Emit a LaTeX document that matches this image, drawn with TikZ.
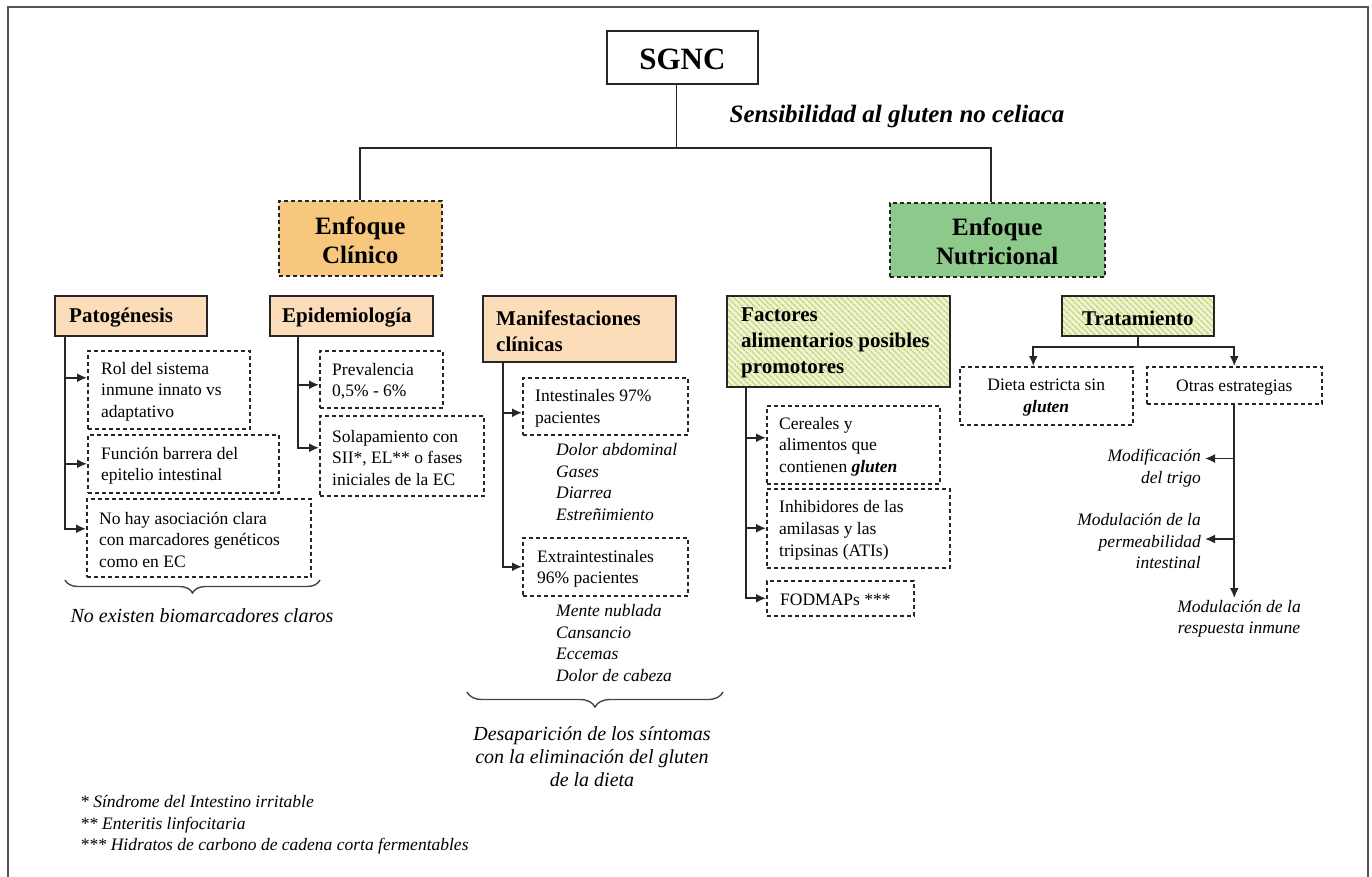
\documentclass[tikz,border=0pt]{standalone}
\usepackage{fontspec}
\setmainfont{Liberation Serif}
\usetikzlibrary{arrows.meta,decorations.pathreplacing,patterns.meta,calc}
\definecolor{linec}{HTML}{262626}
\definecolor{framec}{HTML}{555555}
\definecolor{peach}{HTML}{FCDDB9}
\definecolor{orE}{HTML}{F8C77E}
\definecolor{grE}{HTML}{8CC98A}
\definecolor{gbase}{HTML}{F1F5CF}
\definecolor{ghatch}{HTML}{C6D990}
\definecolor{bracec}{HTML}{3A4A55}
\newcommand\fsz[2]{\fontsize{#1}{#2}\selectfont}
% name, box style, text style, x1, y1, x2, y2, inset, text
\newcommand\bx[9]{%
  \pgfmathsetmacro\bxw{#6-#4}\pgfmathsetmacro\bxh{#7-#5}%
  \node[#2, anchor=north west, minimum width=\bxw pt, minimum height=\bxh pt, inner sep=0pt] (#1) at (#4,#5) {};%
  \node[#3, anchor=west] (#1t) at ([xshift=#8pt,yshift=-2pt]#1.west) {#9};}
% name, box style, text style, x1, y1, x2, y2, text (centred)
\newcommand\cbx[8]{%
  \pgfmathsetmacro\bxw{#6-#4}\pgfmathsetmacro\bxh{#7-#5}%
  \node[#2, anchor=north west, minimum width=\bxw pt, minimum height=\bxh pt, inner sep=0pt] (#1) at (#4,#5) {};%
  \node[#3, anchor=center] (#1t) at ([yshift=-2pt]#1.center) {#8};}
\tikzset{
  sbox/.style={draw=linec, line width=1.8pt, fill=white},
  hdr/.style={draw=linec, line width=1.8pt, fill=peach},
  hdrg/.style={draw=linec, line width=1.8pt, preaction={fill=gbase},
     pattern={Lines[angle=-45,distance=4pt,line width=1.7pt]}, pattern color=ghatch},
  dbox/.style={draw=linec, line width=1.5pt, dash pattern=on 4pt off 3pt, fill=white},
  etxt/.style={font=\fsz{25}{29}\bfseries, align=center, inner sep=0pt},
  htxt/.style={font=\fsz{21}{26}\bfseries, align=left, inner sep=0pt},
  btxt/.style={font=\fsz{17.5}{21.7}, align=left, inner sep=0pt},
  ctxt/.style={font=\fsz{17.5}{21.7}, align=center, inner sep=0pt},
  itxt/.style={font=\fsz{17.5}{21.5}\itshape, inner sep=0pt},
  conn/.style={draw=linec, line width=1.7pt},
  arr/.style={conn, -{Latex[length=10pt,width=9pt]}},
  brc/.style={draw=bracec, line width=1.4pt, decorate},
}
\begin{document}
\begin{tikzpicture}[x=1pt,y=-1pt]
\useasboundingbox (0,0) rectangle (1372,876);
\fill[white] (0,0) rectangle (1372,876);
\draw[framec, line width=2pt] (8,890) -- (8,7) -- (1368,7) -- (1368,890);

% top
\cbx{sgnc}{sbox}{font=\fsz{31}{36}\bfseries, inner sep=0pt}{606}{30}{757}{83}{SGNC}
\node[font=\fsz{25}{29}\bfseries\itshape, inner sep=0pt] (sens) at (897,116) {Sensibilidad al gluten no celiaca};
\cbx{clin}{dbox,fill=orE}{etxt}{278}{200}{441}{275}{Enfoque\\Clínico}
\cbx{nutr}{dbox,fill=grE}{etxt}{889}{202}{1104}{276}{Enfoque\\Nutricional}

\coordinate (hy) at (0,148);
\coordinate (sg) at ([xshift=-6pt]sgnc.south);
\draw[conn] (sg) -- (sg |- hy);
\coordinate (nt) at ([xshift=-6pt]nutr.north);
\draw[conn] (clin.north) |- (hy -| nt) -- (nt);

% row 2 headers
\bx{pato}{hdr}{htxt}{54}{295}{206}{335}{15}{Patogénesis}
\bx{epid}{hdr}{htxt}{269}{295}{432}{335}{13}{Epidemiología}
\bx{mani}{hdr}{htxt}{482}{295}{675}{361}{14}{Manifestaciones\\clínicas}
\bx{fact}{hdrg}{htxt}{726}{295}{949}{386}{15}{Factores\\alimentarios posibles\\promotores}
\cbx{trat}{hdrg}{htxt}{1061}{295}{1213}{335}{Tratamiento}

% Patogenesis
\bx{rol}{dbox}{btxt}{87}{350}{249}{428}{14}{Rol del sistema\\inmune innato vs\\adaptativo}
\bx{func}{dbox}{btxt}{87}{434}{278}{492}{14}{Función barrera del\\epitelio intestinal}
\bx{nohay}{dbox}{btxt}{86}{498}{310}{576}{13}{No hay asociación clara\\con marcadores genéticos\\como en EC}
\coordinate (pv) at ([xshift=11pt]pato.south west);
\coordinate (rola) at ([yshift=12pt]rol.west);
\coordinate (nohaya) at ([yshift=9pt]nohay.west);
\draw[arr] (pv) |- (nohaya);
\draw[arr] (pv |- rola) -- (rola);
\draw[arr] (pv |- func.west) -- (func.west);
\coordinate (b1a) at (65,580);
\coordinate (b1b) at (320,580);
\draw[brc, decoration={brace, mirror, amplitude=13pt}] (b1a) -- (b1b);
\node[font=\fsz{20}{23}\itshape, inner sep=0pt] (noex) at (202,616) {No existen biomarcadores claros};

% Epidemiologia
\bx{prev}{dbox}{btxt}{319}{350}{442}{407}{13}{Prevalencia\\0,5\% - 6\%}
\bx{sola}{dbox}{btxt}{319}{415}{483}{495}{13}{Solapamiento con\\SII*, EL** o fases\\iniciales de la EC}
\coordinate (ev) at ([xshift=29pt]epid.south west);
\coordinate (preva) at ([yshift=-5.5pt]prev.west);
\coordinate (solaa) at ([yshift=8pt]sola.west);
\draw[arr] (ev) |- (solaa);
\draw[arr] (ev |- preva) -- (preva);

% Manifestaciones
\bx{inte}{dbox}{btxt}{522}{377}{687}{434}{13}{Intestinales 97\%\\pacientes}
\bx{extra}{dbox}{btxt}{522}{537}{687}{595}{15}{Extraintestinales\\96\% pacientes}
\coordinate (mv) at ([xshift=21pt]mani.south west);
\coordinate (intea) at ([yshift=-6.5pt]inte.west);
\draw[arr] (mv) |- (extra.west);
\draw[arr] (mv |- intea) -- (intea);
\node[itxt, align=left, anchor=west] (sym1) at (556,482) {Dolor abdominal\\Gases\\Diarrea\\Estreñimiento};
\node[itxt, align=left, anchor=west] (sym2) at (556,643) {Mente nublada\\Cansancio\\Eccemas\\Dolor de cabeza};
\coordinate (b2a) at (467,692);
\coordinate (b2b) at (723,692);
\draw[brc, decoration={brace, mirror, amplitude=15pt}] (b2a) -- (b2b);
\node[font=\fsz{20}{23}\itshape, align=center, inner sep=0pt] (desap) at (592,757) {Desaparición de los síntomas\\con la eliminación del gluten\\de la dieta};

% Factores
\bx{cere}{dbox}{btxt}{766}{405}{939}{483}{13}{Cereales y\\alimentos que\\contienen \textbf{\textit{gluten}}}
\bx{inhi}{dbox}{btxt}{766}{488}{949}{567}{13}{Inhibidores de las\\amilasas y las\\tripsinas (ATIs)}
\bx{fodm}{dbox}{btxt}{766}{580}{913}{615}{14}{FODMAPs ***}
\coordinate (fv) at ([xshift=20pt]fact.south west);
\coordinate (cerea) at ([yshift=7pt]cere.west);
\draw[arr] (fv) |- (fodm.west);
\draw[arr] (fv |- cerea) -- (cerea);
\draw[arr] (fv |- inhi.west) -- (inhi.west);

% Tratamiento
\cbx{dieta}{dbox}{ctxt}{959}{366}{1132}{424}{Dieta estricta sin\\\textbf{\textit{gluten}}}
\cbx{otras}{dbox}{ctxt}{1146}{366}{1321}{403}{Otras estrategias}
\coordinate (tj) at ([yshift=-10pt]trat.south);
\coordinate (dtop) at ([xshift=-13pt]dieta.north);
\draw[conn] (trat.south) -- (tj);
\draw[arr] (tj) -| (dtop);
\draw[arr] (tj) -| (otras.north);
\node[itxt, align=right, anchor=east, inner xsep=4pt] (modif) at (1205,468) {Modificación\\del trigo};
\node[itxt, align=right, anchor=east, inner xsep=4pt] (perm) at (1205,541) {Modulación de la\\permeabilidad\\intestinal};
\node[itxt, align=center, anchor=north, inner ysep=2pt] (resp) at (1239,598) {Modulación de la\\respuesta inmune};
\draw[arr] (otras.south) -- (otras.south |- resp.north);
\coordinate (ma) at ([yshift=9.5pt]modif.east);
\draw[arr] (otras.south |- ma) -- (ma);
\coordinate (pa) at ([yshift=2pt]perm.east);
\draw[arr] (otras.south |- pa) -- (pa);

% footnotes
\node[itxt, align=left, anchor=west] (foot) at (80,825) {* Síndrome del Intestino irritable\\{}** Enteritis linfocitaria\\{}*** Hidratos de carbono de cadena corta fermentables};
\end{tikzpicture}
\end{document}
